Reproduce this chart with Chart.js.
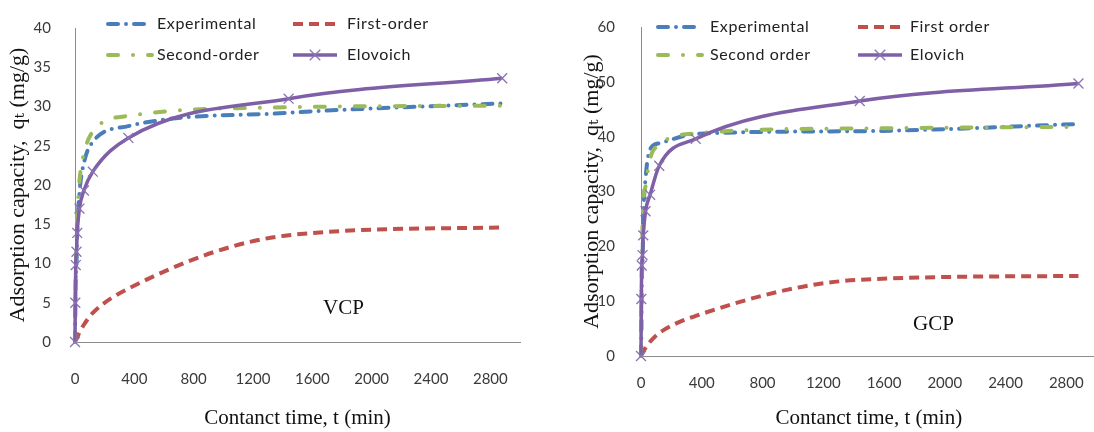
<!DOCTYPE html>
<html>
<head>
<meta charset="utf-8">
<script src="https://cdn.jsdelivr.net/npm/chart.js@4.4.1/dist/chart.umd.min.js"></script>
<style>
  html, body { margin: 0; padding: 0; background: #fff; overflow: hidden; width: 1094px; height: 432px; }
  .panel { position: absolute; top: 0; height: 432px; }
  #panel-vcp { left: 0; width: 548px; }
  #panel-gcp { left: 560px; width: 545px; }
</style>
</head>
<body>
<div class="panel" id="panel-vcp"><canvas id="chart-vcp"></canvas></div>
<div class="panel" id="panel-gcp"><canvas id="chart-gcp"></canvas></div>
<script>
/* ============================================================
   DATA  (contact time in min, q_t in mg/g)
============================================================ */
const times = [0, 2, 5, 10, 15, 30, 60, 120, 360, 1440, 2880];
const xTicks = [0, 400, 800, 1200, 1600, 2000, 2400, 2800];
const vcpYTicks = [0, 5, 10, 15, 20, 25, 30, 35, 40];
const gcpYTicks = [0, 10, 20, 30, 40, 50, 60];

const seriesNamesVcp = ['Experimental', 'First-order', 'Second-order', 'Elovoich'];
const seriesNamesGcp = ['Experimental', 'First order', 'Second order', 'Elovich'];

// VCP
const vcpExperimental = [0, 3.2, 8.3, 9.8, 13.9, 19.0, 22.8, 25.5, 27.5, 29.2, 30.4];
const vcpFirstOrder   = [0, 0.1, 0.2, 0.4, 0.6, 1.2, 2.2, 3.7, 6.8, 13.6, 14.6];
const vcpSecondOrder  = [0, 3.5, 8.0, 13.0, 16.0, 20.5, 24.0, 26.8, 28.8, 29.9, 30.1];
const vcpElovich      = [0, 5.0, 9.8, 11.5, 13.9, 17.0, 19.3, 21.7, 26.0, 31.0, 33.6];

// GCP
const gcpExperimental = [0, 2.5, 12.9, 17.0, 25.0, 32.4, 37.7, 38.8, 40.5, 41.0, 42.3];
const gcpFirstOrder   = [0, 0.1, 0.3, 0.5, 0.8, 1.5, 2.6, 4.2, 7.3, 13.9, 14.6];
const gcpSecondOrder  = [0, 8.0, 16.0, 24.0, 28.0, 31.0, 36.0, 38.5, 40.6, 41.5, 41.8];
const gcpElovich      = [0, 10.4, 16.5, 18.4, 22.0, 26.4, 29.4, 34.7, 39.6, 46.5, 49.7];

/* ============================================================
   STYLE
============================================================ */
const BLUE = '#4a7ebb', RED = '#c0504d', GREEN = '#9bbb59', PURPLE = '#7f5fa5';
const SERIF = '"Liberation Serif", "DejaVu Serif", serif';
const SANS = 'Lato, "Liberation Sans", sans-serif';

const toPoints = (ys) => times.map((t, i) => ({ x: t, y: ys[i] }));

function makeDatasets(names, exp, first, second, elo) {
  const base = { pointRadius: 0, borderWidth: 4, cubicInterpolationMode: 'monotone', clip: false, fill: false };
  return [
    { ...base, label: names[0], data: toPoints(exp), borderColor: BLUE,
      borderDash: [10, 8, 0, 8], borderCapStyle: 'round', order: 4 },
    { ...base, label: names[1], data: toPoints(first), borderColor: RED,
      borderDash: [10, 6], borderCapStyle: 'butt', order: 3 },
    { ...base, label: names[2], data: toPoints(second), borderColor: GREEN,
      borderDash: [10, 15, 0, 15], borderCapStyle: 'round', order: 2 },
    { ...base, label: names[3], data: toPoints(elo), borderColor: PURPLE, borderWidth: 3.5,
      pointStyle: 'crossRot', pointRadius: 7, pointBorderColor: '#8a72b4', pointBorderWidth: 1.3,
      pointBackgroundColor: 'transparent', order: 1 },
  ];
}

// legend in two columns inside the plot, like the Excel original
const pairLegend = {
  id: 'pairLegend',
  afterDraw(chart, args, opts) {
    const ctx = chart.ctx;
    chart.data.datasets.forEach((ds, i) => {
      const col = i % 2, row = Math.floor(i / 2);
      const sx = opts.symX[col], tx = opts.textX[col], y = opts.rowY[row];
      ctx.save();
      ctx.strokeStyle = ds.borderColor;
      ctx.lineWidth = ds.borderWidth;
      ctx.lineCap = ds.borderCapStyle || 'butt';
      ctx.setLineDash(ds.borderDash || []);
      ctx.beginPath();
      ctx.moveTo(sx, y);
      ctx.lineTo(sx + opts.symW, y);
      ctx.stroke();
      if (ds.pointStyle === 'crossRot') {
        const r = ds.pointRadius, cx = sx + opts.symW / 2;
        ctx.setLineDash([]);
        ctx.lineWidth = ds.pointBorderWidth;
        ctx.strokeStyle = ds.pointBorderColor;
        ctx.beginPath();
        ctx.moveTo(cx - r * 0.75, y - r * 0.75); ctx.lineTo(cx + r * 0.75, y + r * 0.75);
        ctx.moveTo(cx - r * 0.75, y + r * 0.75); ctx.lineTo(cx + r * 0.75, y - r * 0.75);
        ctx.stroke();
      }
      ctx.font = '16px ' + SANS;
      ctx.letterSpacing = '0.6px';
      ctx.fillStyle = '#222';
      ctx.textBaseline = 'middle';
      ctx.fillText(ds.label, tx, y);
      ctx.restore();
    });
  }
};

// sample name written inside the plot
const sampleLabel = {
  id: 'sampleLabel',
  afterDraw(chart, args, opts) {
    const { ctx, scales } = chart;
    ctx.save();
    ctx.font = '21px ' + SERIF;
    ctx.fillStyle = '#111';
    ctx.textAlign = 'center';
    ctx.textBaseline = 'middle';
    ctx.fillText(opts.text, scales.x.getPixelForValue(opts.x), scales.y.getPixelForValue(opts.y));
    ctx.restore();
  }
};

function makeChart(id, cfg) {
  return new Chart(document.getElementById(id), {
    type: 'line',
    data: { datasets: cfg.datasets },
    plugins: [pairLegend, sampleLabel],
    options: {
      responsive: true,
      maintainAspectRatio: false,
      animation: false,
      devicePixelRatio: 1,
      layout: { padding: cfg.padding },
      plugins: {
        legend: { display: false },
        tooltip: { enabled: false },
        pairLegend: cfg.legend,
        sampleLabel: cfg.sample,
      },
      scales: {
        x: {
          type: 'linear', min: 0, max: 3000,
          afterBuildTicks: (s) => { s.ticks = xTicks.map(v => ({ value: v })); },
          afterFit: (s) => { s.height = cfg.xHeight; },
          grid: { display: false },
          border: { display: true, color: '#8c8c8c', width: 1 },
          ticks: { color: '#3a3a3a', font: { size: 15, family: SANS }, padding: cfg.xTickPad,
                   maxRotation: 0, autoSkip: false, callback: (v) => String(v) },
          title: { display: true, text: 'Contanct time, t (min)', color: '#111',
                   font: { size: 21, family: SERIF }, padding: { top: 0, bottom: 1 } },
        },
        y: {
          min: 0, max: cfg.yMax,
          afterBuildTicks: (s) => { s.ticks = cfg.yTicks.map(v => ({ value: v })); },
          afterFit: (s) => { s.width = cfg.yWidth; },
          grid: { display: false },
          border: { display: true, color: '#8c8c8c', width: 1 },
          ticks: { color: '#3a3a3a', font: { size: 15, family: SANS }, padding: cfg.yTickPad,
                   callback: (v) => String(v) },
          title: { display: true, text: 'Adsorption capacity,  q\u209C (mg/g)', color: '#111',
                   font: { size: 22, family: SERIF }, padding: { top: cfg.yTitlePad, bottom: 0 } },
        }
      }
    }
  });
}

makeChart('chart-vcp', {
  datasets: makeDatasets(seriesNamesVcp, vcpExperimental, vcpFirstOrder, vcpSecondOrder, vcpElovich),
  padding: { top: 28, right: 28, bottom: 0, left: 0 },
  xHeight: 90, xTickPad: 20, yWidth: 75, yTickPad: 16, yMax: 40, yTicks: vcpYTicks, yTitlePad: 5,
  legend: { symX: [108, 293], textX: [157, 347], rowY: [24, 55], symW: 44 },
  sample: { text: 'VCP', x: 1810, y: 4.3 },
});

makeChart('chart-gcp', {
  datasets: makeDatasets(seriesNamesGcp, gcpExperimental, gcpFirstOrder, gcpSecondOrder, gcpElovich),
  padding: { top: 17, right: 3, bottom: 0, left: 0 },
  xHeight: 76, xTickPad: 10, yWidth: 81, yTickPad: 18, yMax: 60, yTicks: gcpYTicks, yTitlePad: 19,
  legend: { symX: [98, 298], textX: [150, 350], rowY: [27, 55], symW: 44 },
  sample: { text: 'GCP', x: 1925, y: 5.8 },
});
</script>
</body>
</html>
